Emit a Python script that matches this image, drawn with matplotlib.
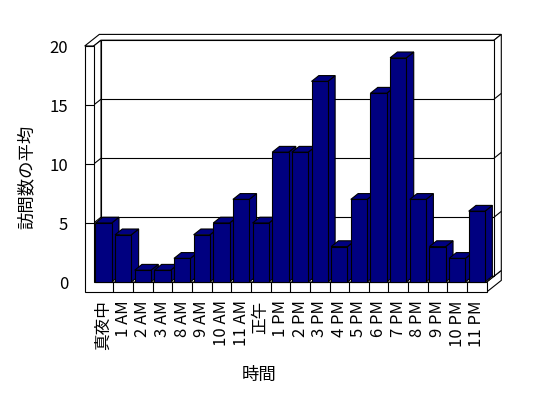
import matplotlib
matplotlib.use("Agg")
import matplotlib.pyplot as plt
from matplotlib.patches import Polygon

plt.rcParams['font.family'] = ['Noto Sans CJK JP', 'DejaVu Sans']

categories = ["真夜中", "1 AM", "2 AM", "3 AM", "8 AM", "9 AM", "10 AM", "11 AM", "正午",
              "1 PM", "2 PM", "3 PM", "4 PM", "5 PM", "6 PM", "7 PM", "8 PM", "9 PM",
              "10 PM", "11 PM"]
values = [5, 4, 1, 1, 2, 4, 5, 7, 5, 11, 11, 17, 3, 7, 16, 19, 7, 3, 2, 6]
yticks = [0, 5, 10, 15, 20]
xlabel = "時間"
ylabel = "訪問数の平均"

W, H = 548, 398
fig = plt.figure(figsize=(W / 100, H / 100), dpi=100)
fig.patch.set_facecolor("white")

ax = fig.add_axes([93.7 / W, (H - 282) / H, 393 / W, 236 / H])
n = len(categories)
X0, X1 = -0.5, n - 0.5
YMAX = yticks[-1]
ax.set_xlim(X0, X1)
ax.set_ylim(0, YMAX)
ax.axis('off')

sx = ax.bbox.width / (X1 - X0)
sy = ax.bbox.height / YMAX
dx, dy = 7.3 / sx, 5.8 / sy      # depth
tL = 9 / sx                       # left wall thickness
tF = 10 / sy                      # floor thickness
lw = 0.8
EC = "black"
NAVY = "#000080"

def poly(pts, z, fc="white"):
    p = Polygon(pts, closed=True, facecolor=fc, edgecolor=EC, lw=lw, zorder=z,
                clip_on=False, joinstyle='miter')
    ax.add_patch(p)

def line(xs, ys, z):
    ax.plot(xs, ys, color=EC, lw=lw, zorder=z, clip_on=False, solid_capstyle='butt')

# back wall slab top (with left wall top)
poly([(X0 - tL, YMAX), (X0, YMAX), (X0 + dx, YMAX + dy), (X1 + dx, YMAX + dy),
      (X1 + 2 * dx, YMAX + 2 * dy), (X0 - tL + 2 * dx, YMAX + 2 * dy)], 1)
# floor slab right face
poly([(X1, -tF), (X1 + 2 * dx, -tF + 2 * dy), (X1 + 2 * dx, 2 * dy), (X1, 0)], 1)
# back wall right face
poly([(X1 + dx, dy), (X1 + dx, YMAX + dy), (X1 + 2 * dx, YMAX + 2 * dy), (X1 + 2 * dx, 2 * dy)], 1)
# back wall inner face
poly([(X0 + dx, dy), (X1 + dx, dy), (X1 + dx, YMAX + dy), (X0 + dx, YMAX + dy)], 1.5)
for v in yticks[1:-1]:
    line([X0 + dx, X1 + dx], [v + dy, v + dy], 1.6)
    line([X1 + dx, X1 + 2 * dx], [v + dy, v + 2 * dy], 1.6)

# left wall inner face
poly([(X0, 0), (X0, YMAX), (X0 + dx, YMAX + dy), (X0 + dx, dy)], 2)
for v in yticks[1:-1]:
    line([X0, X0 + dx], [v, v + dy], 2.1)

# floor top
poly([(X0, 0), (X1, 0), (X1 + dx, dy), (X0 + dx, dy)], 3)

# front L-shape: left wall front + floor front
poly([(X0 - tL, -tF), (X1, -tF), (X1, 0), (X0, 0), (X0, YMAX), (X0 - tL, YMAX)], 4)
for k in range(1, n):
    line([k - 0.5, k - 0.5], [-tF, 0], 4.1)
for v in yticks[1:-1]:
    line([X0 - tL, X0], [v, v], 4.1)

# bars
bw = 0.83
bars = ax.bar(range(n), values, width=bw, color=NAVY, edgecolor=EC, linewidth=lw, clip_on=False)
for i, (b, v) in enumerate(zip(bars, values)):
    zb = 10 + 3 * i
    xl, xr = i - bw / 2, i + bw / 2
    poly([(xr, 0), (xr + dx, dy), (xr + dx, v + dy), (xr, v)], zb, NAVY)
    poly([(xl, v), (xr, v), (xr + dx, v + dy), (xl + dx, v + dy)], zb + 1, NAVY)
    b.set_zorder(zb + 2)

# tick labels
for v in yticks:
    ax.annotate(str(v), xy=(X0 - tL, v), xytext=(-12, -1.5), textcoords='offset points',
                ha='right', va='center', fontsize=12, annotation_clip=False)
for i, lab in enumerate(categories):
    ax.annotate(lab, xy=(i, -tF), xytext=(0, -6), textcoords='offset points',
                rotation=90, ha='center', va='top', fontsize=12, annotation_clip=False)

fig.text(259.5 / W, 1 - 375 / H, xlabel, ha='center', va='center', fontsize=12.5)
fig.text(27 / W, 1 - 176.5 / H, ylabel, rotation=90, ha='center', va='center', fontsize=12.5)

fig.savefig("out.png", dpi=100)
